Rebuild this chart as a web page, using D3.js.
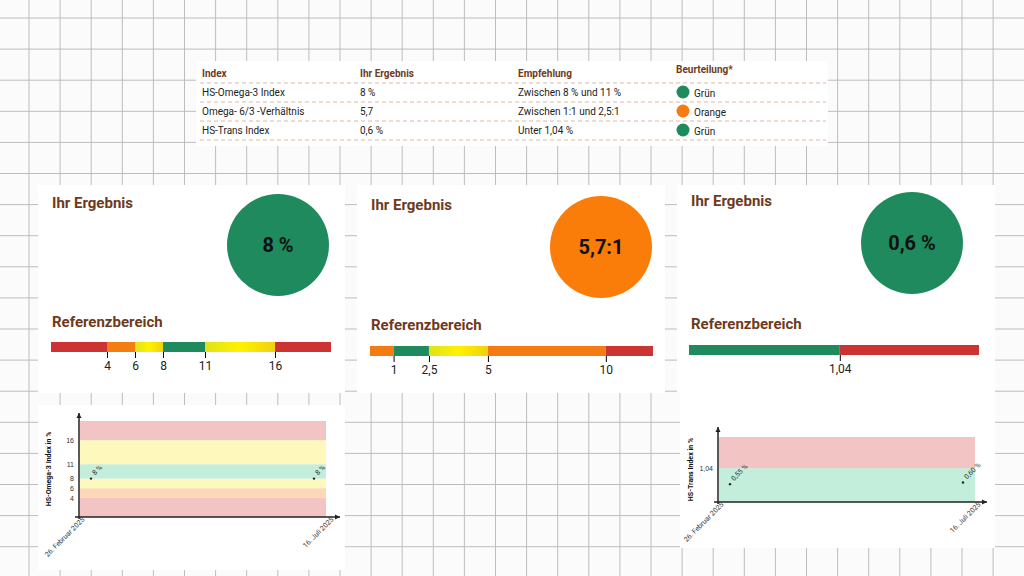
<!DOCTYPE html><html><head><meta charset="utf-8">
<script src="https://cdn.jsdelivr.net/npm/d3@7"></script>
<style>body{margin:0;background:#fff;font-family:Roboto,sans-serif}</style></head><body>
<svg id="c" width="1024" height="576"></svg>
<script>
const tableHeader=["Index","Ihr Ergebnis","Empfehlung","Beurteilung*"];
const tableIndex=["HS-Omega-3 Index","Omega- 6/3 -Verhältnis","HS-Trans Index"];
const tableResult=["8 %","5,7","0,6 %"];
const tableRec=["Zwischen 8 % und 11 %","Zwischen 1:1 und 2,5:1","Unter 1,04 %"];
const tableRating=["Grün","Orange","Grün"];
const resultLabels=["8 %","5,7:1","0,6 %"];
const omegaTicks=[4,6,8,11,16];
const omegaBands=[[0,4,"red"],[4,6,"orange"],[6,8,"yellow"],[8,11,"green"],[11,16,"yellow"],[16,20,"red"]];
const ratioTicks=[1,2.5,5,10];
const ratioBands=[[0,1,"orange"],[1,2.5,"green"],[2.5,5,"yellow"],[5,10,"orange"],[10,12,"red"]];
const transTicks=[1.04];
const transBands=[[0,1.04,"green"],[1.04,2,"red"]];
const dates=["26. Februar 2025","16. Juli 2025"];
const omegaValues=[8,8];
const transValues=[0.55,0.60];
const transLabels=["0,55 %","0,60 %"];

const C={red:"#cc3333",orange:"#f57c12",green:"#1e8a5e",yellow:"#f5e600"};
const L={red:"#f2c4c4",orange:"#fcd8b8",yellow:"#fdf8bb",green:"#c2eedb"};
const brown="#6e3a1c";
const svg=d3.select("#c");
const defs=svg.append("defs");
const g=defs.append("linearGradient").attr("id","yg");
g.append("stop").attr("offset","0").attr("stop-color","#dfe21a");
g.append("stop").attr("offset","0.5").attr("stop-color","#fff200");
g.append("stop").attr("offset","1").attr("stop-color","#f0d010");
svg.append("rect").attr("width",1024).attr("height",576).attr("fill","#fbfbfb");
for(let x=29;x<1024;x+=31.1) svg.append("line").attr("x1",x).attr("x2",x).attr("y1",0).attr("y2",576).attr("stroke","#bdbdbd");
for(let y=18;y<576;y+=31.1) svg.append("line").attr("y1",y).attr("y2",y).attr("x1",0).attr("x2",1024).attr("stroke","#bdbdbd");
svg.append("rect").attr("x",196).attr("y",61).attr("width",632).attr("height",85).attr("fill","#fff");
const colX=[202,360,518,676];
tableHeader.forEach((h,i)=>svg.append("text").attr("x",colX[i]).attr("y",i==3?73:77).attr("font-size",10).attr("font-weight","bold").attr("fill",brown).text(h));
[83,102,121,140].forEach(y=>svg.append("line").attr("x1",200).attr("x2",826).attr("y1",y).attr("y2",y).attr("stroke","#d9b9a6").attr("stroke-dasharray","4,3"));
tableIndex.forEach((t,i)=>{const y=96+i*19;
 [t,tableResult[i],tableRec[i]].forEach((s,j)=>svg.append("text").attr("x",colX[j]).attr("y",y).attr("font-size",10).attr("fill","#222").text(s));
 svg.append("circle").attr("cx",683).attr("cy",y-4).attr("r",6.5).attr("fill",tableRating[i]=="Grün"?C.green:C.orange);
 svg.append("text").attr("x",694).attr("y",y+1).attr("font-size",10).attr("fill","#222").text(tableRating[i]);});
const panels=[{x:38,w:307,cx:278,cy:245,col:C.green,tY:203,rY:322,bx:51,bw:280,by:342,dom:[0,20],ticks:omegaTicks,bands:omegaBands,fmt:d=>d},
 {x:357,w:308,cx:601,cy:247,col:"#fb7d09",tY:205,rY:325,bx:370,bw:283,by:346,dom:[0,12],ticks:ratioTicks,bands:ratioBands,fmt:d=>String(d).replace(".",",")},
 {x:677,w:318,cx:912,cy:243,col:C.green,tY:201,rY:324,bx:689,bw:290,by:345,dom:[0,2],ticks:transTicks,bands:transBands,fmt:d=>String(d).replace(".",",")}];
panels.forEach((p,i)=>{
 svg.append("rect").attr("x",p.x).attr("y",185).attr("width",p.w).attr("height",208).attr("fill","#fff");
 svg.append("text").attr("x",p.x+14).attr("y",p.tY+5).attr("font-size",15).attr("font-weight","bold").attr("fill",brown).text("Ihr Ergebnis");
 svg.append("circle").attr("cx",p.cx).attr("cy",p.cy).attr("r",51).attr("fill",p.col);
 svg.append("text").attr("x",p.cx).attr("y",p.cy+7).attr("text-anchor","middle").attr("font-size",20).attr("font-weight","bold").attr("fill","#111").text(resultLabels[i]);
 svg.append("text").attr("x",p.x+14).attr("y",p.rY+5).attr("font-size",15).attr("font-weight","bold").attr("fill",brown).text("Referenzbereich");
 const s=d3.scaleLinear().domain(p.dom).range([p.bx,p.bx+p.bw]);
 svg.selectAll(null).data(p.bands).join("rect").attr("x",d=>s(d[0])).attr("width",d=>s(d[1])-s(d[0])).attr("y",p.by).attr("height",10)
  .attr("fill",d=>d[2]=="yellow"?"url(#yg)":C[d[2]]);
 const ax=svg.append("g").attr("transform",`translate(0,${p.by+10})`).call(d3.axisBottom(s).tickValues(p.ticks).tickFormat(p.fmt).tickSize(6).tickSizeOuter(0));
 ax.select(".domain").remove();
 ax.selectAll("text").attr("font-size",12).attr("fill","#222").attr("font-family","Roboto");
});
function chart(o){
 svg.append("rect").attr("x",o.px).attr("y",o.py).attr("width",o.pw).attr("height",o.ph).attr("fill","#fff");
 const y=d3.scaleLinear().domain(o.dom).range([o.oy,o.top]);
 const x=d3.scalePoint().domain(dates).range([o.ox+12,o.bx2-12]);
 svg.selectAll(null).data(o.bands).join("rect").attr("x",o.ox+1).attr("width",o.bx2-o.ox-1).attr("y",d=>y(d[1])).attr("height",d=>y(d[0])-y(d[1])).attr("fill",d=>L[d[2]]);
 const ya=svg.append("g").attr("transform",`translate(${o.ox},0)`).call(d3.axisLeft(y).tickValues(o.ticks).tickFormat(d=>String(d).replace(".",",")).tickSize(0));
 ya.select(".domain").remove(); ya.selectAll("text").attr("font-size",7).attr("fill","#333").attr("dx",-2);
 svg.append("line").attr("x1",o.ox).attr("x2",o.ox).attr("y1",o.oy+2).attr("y2",o.yTop).attr("stroke","#222").attr("stroke-width",1.5);
 svg.append("path").attr("d",`M${o.ox-2.5},${o.yTop+5}L${o.ox},${o.yTop}L${o.ox+2.5},${o.yTop+5}Z`).attr("fill","#222");
 svg.append("line").attr("x1",o.ox-4).attr("x2",o.xEnd).attr("y1",o.oy).attr("y2",o.oy).attr("stroke","#222").attr("stroke-width",1.5);
 svg.append("path").attr("d",`M${o.xEnd-5},${o.oy-2.5}L${o.xEnd},${o.oy}L${o.xEnd-5},${o.oy+2.5}Z`).attr("fill","#222");
 o.vals.forEach((v,i)=>{const cx=x(dates[i]),cy=y(v);
  svg.append("circle").attr("cx",cx).attr("cy",cy).attr("r",1.2).attr("fill","#222");
  svg.append("text").attr("transform",`translate(${cx+4},${cy-3}) rotate(-45)`).attr("font-size",7).attr("fill","#333").text(o.labels[i]);});
 [o.ox+6,o.xEnd-6].forEach((xx,i)=>svg.append("text").attr("transform",`translate(${xx},${o.oy+3}) rotate(-45)`).attr("text-anchor","end").attr("font-size",7).attr("fill","#333").text(dates[i]));
 svg.append("text").attr("transform",`translate(${o.px+13},${(o.top+o.oy)/2}) rotate(-90)`).attr("text-anchor","middle").attr("font-size",7).attr("font-weight","bold").attr("fill","#111").text(o.title);
}
chart({px:38,py:405,pw:307,ph:165,ox:79,oy:517,top:421,yTop:413,bx2:326,xEnd:340,dom:[0,20],bands:omegaBands,ticks:omegaTicks,vals:omegaValues,labels:omegaValues.map(v=>v+" %"),title:"HS-Omega-3 Index in %"});
chart({px:680,py:393,pw:315,ph:155,ox:718,oy:502,top:437,yTop:427,bx2:975,xEnd:987,dom:[0,2],bands:transBands,ticks:transTicks,vals:transValues,labels:transLabels,title:"HS-Trans Index in %"});
</script></body></html>
